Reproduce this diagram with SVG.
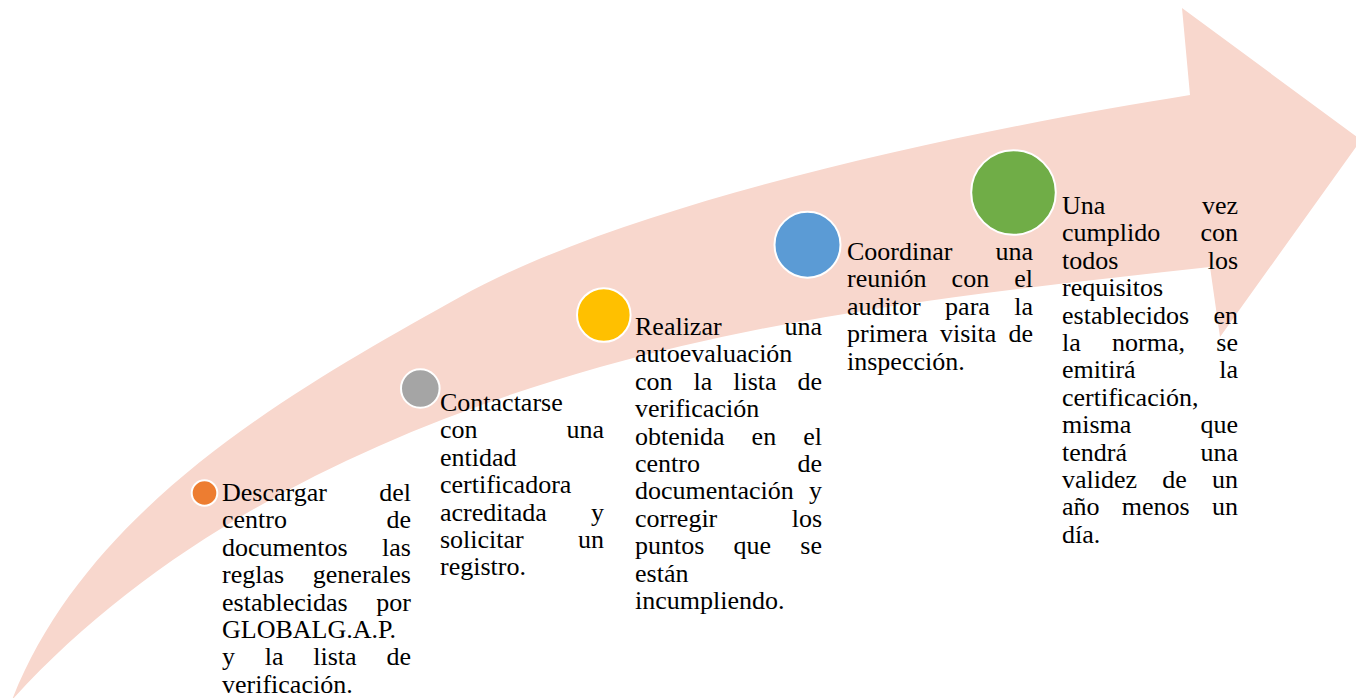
<svg xmlns="http://www.w3.org/2000/svg" width="1356" height="698" viewBox="0 0 1356 698">
<style>
.band { fill: #F8D7CD; stroke: none; }
.dot { stroke: #FFFFFF; stroke-width: 2; }
text { font-family: 'Liberation Serif', 'Times New Roman', Tinos, serif; font-size: 26px; fill: #000000; }
.e { text-anchor: end; }
</style>
<rect width="1356" height="698" fill="#FFFFFF"/>
<g id="connectors">
<path id="arrow-band" class="band" d="M 12 700 C 90 500 310 381 460 297 C 640 197 990 127 1190 95 L 1182 8 L 1361 140 L 1220 337 L 1210 267 C 1010 289 800 311 600 367 C 380 429 162 534 12 700 Z"/>
</g>
<g id="step1">
<circle class="dot" cx="204.5" cy="493" r="12.8" fill="#ED7D31"/>
<text><tspan x="222" y="501">Descargar</tspan><tspan class="e" x="411" y="501">del</tspan><tspan x="222" y="528.4">centro</tspan><tspan class="e" x="411" y="528.4">de</tspan><tspan x="222" y="555.8">documentos</tspan><tspan class="e" x="411" y="555.8">las</tspan><tspan x="222" y="583.2">reglas</tspan><tspan class="e" x="411" y="583.2">generales</tspan><tspan x="222" y="610.6">establecidas</tspan><tspan class="e" x="411" y="610.6">por</tspan><tspan x="222" y="638">GLOBALG.A.P.</tspan><tspan x="222" y="665.4">y</tspan><tspan x="264.8" y="665.4">la</tspan><tspan x="313.3" y="665.4">lista</tspan><tspan class="e" x="411" y="665.4">de</tspan><tspan x="222" y="692.8">verificación.</tspan></text>
</g>
<g id="step2">
<circle class="dot" cx="420.3" cy="388.5" r="19.3" fill="#A5A5A5"/>
<text><tspan x="440" y="411">Contactarse</tspan><tspan x="440" y="438.4">con</tspan><tspan class="e" x="604" y="438.4">una</tspan><tspan x="440" y="465.8">entidad</tspan><tspan x="440" y="493.2">certificadora</tspan><tspan x="440" y="520.6">acreditada</tspan><tspan class="e" x="604" y="520.6">y</tspan><tspan x="440" y="548">solicitar</tspan><tspan class="e" x="604" y="548">un</tspan><tspan x="440" y="575.4">registro.</tspan></text>
</g>
<g id="step3">
<circle class="dot" cx="603.8" cy="315" r="26.8" fill="#FFC000"/>
<text><tspan x="635" y="335">Realizar</tspan><tspan class="e" x="822" y="335">una</tspan><tspan x="635" y="362.4">autoevaluación</tspan><tspan x="635" y="389.8">con</tspan><tspan x="693.5" y="389.8">la</tspan><tspan x="733.2" y="389.8">lista</tspan><tspan class="e" x="822" y="389.8">de</tspan><tspan x="635" y="417.2">verificación</tspan><tspan x="635" y="444.6">obtenida</tspan><tspan x="751.6" y="444.6">en</tspan><tspan class="e" x="822" y="444.6">el</tspan><tspan x="635" y="472">centro</tspan><tspan class="e" x="822" y="472">de</tspan><tspan x="635" y="499.4">documentación</tspan><tspan class="e" x="822" y="499.4">y</tspan><tspan x="635" y="526.8">corregir</tspan><tspan class="e" x="822" y="526.8">los</tspan><tspan x="635" y="554.2">puntos</tspan><tspan x="733.6" y="554.2">que</tspan><tspan class="e" x="822" y="554.2">se</tspan><tspan x="635" y="581.6">están</tspan><tspan x="635" y="609">incumpliendo.</tspan></text>
</g>
<g id="step4">
<circle class="dot" cx="807.5" cy="244.7" r="33" fill="#5B9BD5"/>
<text><tspan x="847" y="260">Coordinar</tspan><tspan class="e" x="1033" y="260">una</tspan><tspan x="847" y="287.4">reunión</tspan><tspan x="951.6" y="287.4">con</tspan><tspan class="e" x="1033" y="287.4">el</tspan><tspan x="847" y="314.8">auditor</tspan><tspan x="945.1" y="314.8">para</tspan><tspan class="e" x="1033" y="314.8">la</tspan><tspan x="847" y="342.2">primera</tspan><tspan x="940" y="342.2">visita</tspan><tspan class="e" x="1033" y="342.2">de</tspan><tspan x="847" y="369.6">inspección.</tspan></text>
</g>
<g id="step5">
<circle class="dot" cx="1013.5" cy="192.5" r="42.3" fill="#70AD47"/>
<text><tspan x="1062" y="214">Una</tspan><tspan class="e" x="1238" y="214">vez</tspan><tspan x="1062" y="241.4">cumplido</tspan><tspan class="e" x="1238" y="241.4">con</tspan><tspan x="1062" y="268.8">todos</tspan><tspan class="e" x="1238" y="268.8">los</tspan><tspan x="1062" y="296.2">requisitos</tspan><tspan x="1062" y="323.6">establecidos</tspan><tspan class="e" x="1238" y="323.6">en</tspan><tspan x="1062" y="351">la</tspan><tspan x="1112.1" y="351">norma,</tspan><tspan class="e" x="1238" y="351">se</tspan><tspan x="1062" y="378.4">emitirá</tspan><tspan class="e" x="1238" y="378.4">la</tspan><tspan x="1062" y="405.8">certificación,</tspan><tspan x="1062" y="433.2">misma</tspan><tspan class="e" x="1238" y="433.2">que</tspan><tspan x="1062" y="460.6">tendrá</tspan><tspan class="e" x="1238" y="460.6">una</tspan><tspan x="1062" y="488">validez</tspan><tspan x="1162.3" y="488">de</tspan><tspan class="e" x="1238" y="488">un</tspan><tspan x="1062" y="515.4">año</tspan><tspan x="1121.8" y="515.4">menos</tspan><tspan class="e" x="1238" y="515.4">un</tspan><tspan x="1062" y="542.8">día.</tspan></text>
</g>
</svg>
